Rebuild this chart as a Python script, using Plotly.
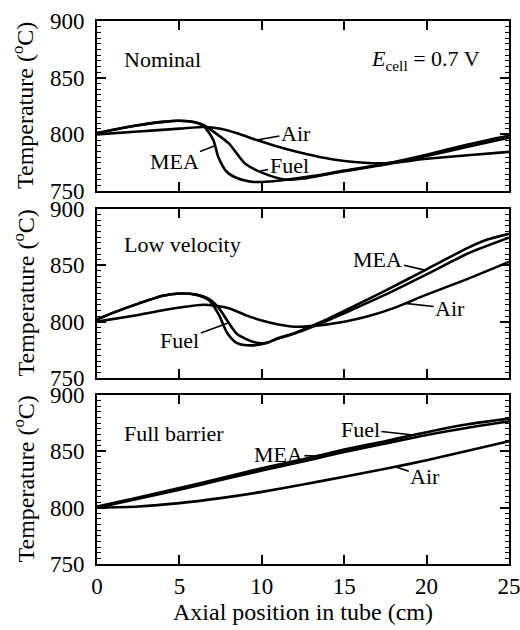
import numpy as np
import plotly.graph_objects as go

# ---------------- data ----------------
# Panel 1: Nominal
nom_mea_x = [0, 1, 2.5, 4, 5, 6, 6.5, 7.06, 7.36, 7.87, 8.57, 9.5, 10, 11, 12, 13.5, 15, 17.5, 20, 22.5, 25]
nom_mea_y = [801, 804, 808, 811, 812, 810.5, 807, 795, 780, 767, 761, 758, 758, 759, 761, 764, 768, 774, 782, 791, 799]
nom_fuel_x = [0, 1, 2.5, 4, 5, 6, 6.5, 7.2, 8, 9, 10.4, 11.5, 12.5, 13.5, 15, 17.5, 20, 22.5, 25]
nom_fuel_y = [801, 804, 808, 811, 812, 810.5, 808, 801, 792, 774, 764, 760, 761, 763.5, 767.5, 773.5, 781, 789, 797]
nom_air_x = [0, 2.5, 5, 6.5, 7.5, 8.5, 9.7, 11, 12, 13.5, 15, 17.5, 20, 22.5, 25]
nom_air_y = [800, 802.5, 805, 806.5, 805, 801, 795, 789, 785, 780, 776.5, 774.5, 778.5, 781.5, 784.5]

# Panel 2: Low velocity
low_mea_x = [0, 1, 2.5, 4, 5, 6, 6.8, 7.4, 7.9, 8.5, 9.3, 10.3, 11, 12, 13, 14, 15, 17.5, 20, 22.5, 23.6, 25]
low_mea_y = [802, 808, 816, 823, 825, 824, 819, 806, 790, 781, 779, 781, 785.5, 790, 796, 802.5, 809.5, 827.5, 846.5, 865.5, 872.5, 878]
low_fuel_x = [0, 1, 2.5, 4, 5, 6, 6.8, 7.4, 7.9, 8.5, 9.5, 10.2, 11, 12, 13, 14, 15, 17.5, 20, 22.5, 25]
low_fuel_y = [802, 808, 816, 823, 825, 824, 820, 812, 801, 789, 782, 781, 785, 789.5, 795, 801, 807.5, 824, 842, 860.5, 874.5]
low_air_x = [0, 2.5, 5, 6.5, 8, 9, 10, 11, 12, 13, 15, 16.5, 18, 20, 22.5, 25]
low_air_y = [800, 806, 812.5, 815, 812, 806, 801, 797.5, 795.5, 796, 800, 805, 812, 824, 838, 853]

# Panel 3: Full barrier
full_x = [0, 2.5, 5, 7.5, 10, 12.5, 15, 17.5, 20, 22.5, 25]
full_mea_y = [800, 808, 816, 824.5, 833, 841, 849.5, 857, 864.5, 871, 876.5]
full_fuel_y = [801, 809, 817.5, 826, 835, 843, 851.5, 859, 867, 874, 879]
full_air_y = [800, 801, 804, 808.5, 814, 820.5, 827.5, 834.5, 842, 850.5, 859]

x_ticks = [0, 5, 10, 15, 20, 25]
y_ticks = [750, 800, 850, 900]
panel_titles = ["Nominal", "Low velocity", "Full barrier"]
y_title = "Temperature (<sup>o</sup>C)"
x_title = "Axial position in tube (cm)"

# ---------------- figure ----------------
FONT = "Liberation Serif, Times New Roman, DejaVu Serif, serif"
W, H = 520, 630
L, R, T, B = 97, 11, 21, 66
plot_h = H - T - B
plot_w = W - L - R

def py(p):  # pixel y -> paper
    return (H - B - p) / plot_h

def px(p):
    return (p - L) / plot_w

domains = [[py(191), 1.0], [py(378), py(209)], [0.0, py(395)]]

series = [
    [(nom_mea_x, nom_mea_y), (nom_fuel_x, nom_fuel_y), (nom_air_x, nom_air_y)],
    [(low_mea_x, low_mea_y), (low_fuel_x, low_fuel_y), (low_air_x, low_air_y)],
    [(full_x, full_mea_y), (full_x, full_fuel_y), (full_x, full_air_y)],
]
names = ["MEA", "Fuel", "Air"]

fig = go.Figure()
for i, panel in enumerate(series):
    xa = "x" if i == 0 else f"x{i+1}"
    ya = "y" if i == 0 else f"y{i+1}"
    for (xs, ys), nm in zip(panel, names):
        fig.add_trace(go.Scatter(x=xs, y=ys, mode="lines", name=nm, xaxis=xa, yaxis=ya,
                                 line=dict(color="black", width=2.6, shape="spline", smoothing=0.7),
                                 showlegend=False, hoverinfo="skip"))

layout = dict(width=W, height=H, margin=dict(l=L, r=R, t=T, b=B, autoexpand=False),
              paper_bgcolor="white", plot_bgcolor="white",
              font=dict(family=FONT, size=22, color="black"), showlegend=False)
for i in range(3):
    xk = "xaxis" if i == 0 else f"xaxis{i+1}"
    yk = "yaxis" if i == 0 else f"yaxis{i+1}"
    ya = "y" if i == 0 else f"y{i+1}"
    xa = "x" if i == 0 else f"x{i+1}"
    layout[xk] = dict(domain=[0, 1], anchor=ya, range=[0, 25], tickvals=x_ticks,
                      ticks="inside", ticklen=9, tickwidth=1.5, tickcolor="black",
                      showticklabels=(i == 2), mirror="allticks", showline=True,
                      linewidth=2, linecolor="black", showgrid=False, zeroline=False,
                      automargin=False, ticklabeloverflow="allow",
                      tickfont=dict(family=FONT, size=23))
    if i == 2:
        layout[xk]["title"] = dict(text=x_title, font=dict(family=FONT, size=24), standoff=4)
    layout[yk] = dict(domain=domains[i], anchor=xa, range=[750, 900], tickvals=y_ticks,
                      ticks="inside", ticklen=9, tickwidth=1.5, tickcolor="black",
                      minor=dict(dtick=5, ticks="inside", ticklen=4, tickwidth=1, tickcolor="black"),
                      mirror="allticks", showline=True, linewidth=2, linecolor="black",
                      showgrid=False, zeroline=False, ticklabelstandoff=6, automargin=False,
                      ticklabeloverflow="allow", tickfont=dict(family=FONT, size=23))
fig.update_layout(**layout)

ann = []
title_y_px = [59, 245, 433]
for i in range(3):
    ann.append(dict(text=panel_titles[i], xref="paper", yref="paper", x=px(122), y=py(title_y_px[i]),
                    xanchor="left", yanchor="middle", showarrow=False,
                    font=dict(family=FONT, size=22)))
    ann.append(dict(text=y_title, xref="paper", yref="paper", x=px(23),
                    y=sum(domains[i]) / 2, xanchor="center", yanchor="middle",
                    textangle=-90, showarrow=False, font=dict(family=FONT, size=24)))
ann.append(dict(text="<i>E</i><sub>cell</sub> = 0.7 V", xref="paper", yref="paper",
                x=px(482), y=py(60), xanchor="right", yanchor="middle", showarrow=False,
                font=dict(family=FONT, size=22)))

def leader(i, label, xs, ys, xv, ax, ay):
    xa = "x" if i == 0 else f"x{i+1}"
    ya = "y" if i == 0 else f"y{i+1}"
    ann.append(dict(text=label, x=xv, y=float(np.interp(xv, xs, ys)), xref=xa, yref=ya,
                    showarrow=True, arrowhead=0, arrowwidth=1.6, arrowcolor="black",
                    ax=ax, ay=ay, standoff=0, font=dict(family=FONT, size=22)))

leader(0, "Air", nom_air_x, nom_air_y, 9.7, 39, -7)
leader(0, "Fuel", nom_fuel_x, nom_fuel_y, 9.9, 29, -6)
leader(0, "MEA", nom_mea_x, nom_mea_y, 7.16, -41, 16)
leader(1, "MEA", low_mea_x, low_mea_y, 19.9, -47, -11)
leader(1, "Air", low_air_x, low_air_y, 18.7, 45, 5)
leader(1, "Fuel", low_fuel_x, low_fuel_y, 8.0, -49, 18)
leader(2, "Fuel", full_x, full_fuel_y, 19.2, -53, -6)
leader(2, "MEA", full_x, full_mea_y, 13.8, -46, -2)
leader(2, "Air", full_x, full_air_y, 18.1, 30, 10)

fig.update_layout(annotations=ann)
fig.write_html("out.html", config={"displayModeBar": False},
               post_script="document.body.style.margin='0px';document.body.style.overflow='hidden';")
